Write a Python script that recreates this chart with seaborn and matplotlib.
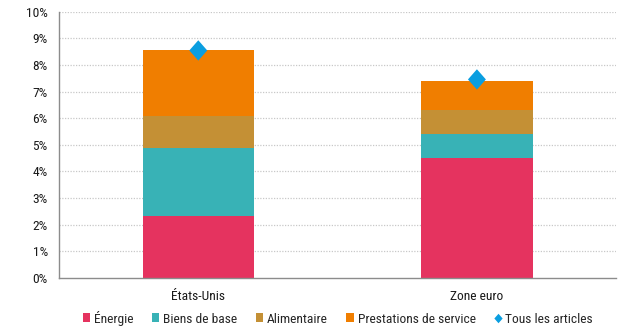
import numpy as np
import pandas as pd
import matplotlib
matplotlib.use("Agg")
import matplotlib.pyplot as plt
import seaborn as sns
from matplotlib.patches import Patch
from matplotlib.lines import Line2D
from matplotlib.ticker import FixedLocator

regions = ["États-Unis", "Zone euro"]
energie = [2.34, 4.49]
biens_de_base = [2.56, 0.90]
alimentaire = [1.18, 0.91]
prestations = [2.49, 1.11]
tous_articles = [8.55, 7.46]

components = ["Énergie", "Biens de base", "Alimentaire", "Prestations de service"]
colors = ["#E5335F", "#38B2B6", "#C49035", "#F07E00"]
diamond_color = "#0A9EE0"
# slightly tall diamond
diamond = [(0, 1), (0.88, 0), (0, -1), (-0.88, 0), (0, 1)]

sns.set_theme(style="white")
plt.rcParams["font.family"] = ["Liberation Sans Narrow", "Roboto Condensed",
                               "Archivo Narrow", "DejaVu Sans"]
FS = 9.7

fig = plt.figure(figsize=(6.34, 3.30), dpi=100)
ax = fig.add_axes([0.093, 0.158, 0.879, 0.806])

# stacked bars: draw cumulative totals from the top layer down
stack = np.vstack([energie, biens_de_base, alimentaire, prestations])
cum = np.cumsum(stack, axis=0)
for i in reversed(range(len(components))):
    df = pd.DataFrame({"region": regions, "value": cum[i]})
    sns.barplot(data=df, x="region", y="value", color=colors[i], width=0.40,
                saturation=1, ax=ax, zorder=2, linewidth=0)

df_all = pd.DataFrame({"region": regions, "value": tous_articles})
sns.scatterplot(data=df_all, x="region", y="value", marker=diamond, s=215,
                color=diamond_color, edgecolor="none", ax=ax, zorder=4)

ax.set_xlim(-0.5, 1.5)
ax.set_ylim(0, 10)
ax.set_yticks(range(0, 11))
ax.set_yticklabels([f"{v}%" for v in range(0, 11)])
ax.set_xlabel("")
ax.set_ylabel("")

# dotted horizontal grid
for y in range(1, 11):
    ax.axhline(y, color="#C8C8C8", linestyle=(0, (1, 1.2)), linewidth=0.9, zorder=1)

for side in ["top", "right"]:
    ax.spines[side].set_visible(False)
for side in ["left", "bottom"]:
    ax.spines[side].set_color("#8C8C8C")
    ax.spines[side].set_linewidth(1.0)

ax.tick_params(axis="y", length=0, labelsize=FS, colors="#1A1A1A", pad=8)
ax.tick_params(axis="x", which="major", length=0, labelsize=FS, colors="#1A1A1A", pad=9)
ax.xaxis.set_minor_locator(FixedLocator([-0.5, 0.5, 1.5]))
ax.tick_params(axis="x", which="minor", length=4, width=1.0, color="#8C8C8C", direction="out")

handles = [Patch(facecolor=c, edgecolor="none") for c in colors]
handles.append(Line2D([], [], linestyle="none", marker=diamond, markersize=6.8,
                      markerfacecolor=diamond_color, markeredgecolor="none"))
labels = components + ["Tous les articles"]
fig.legend(handles, labels, loc="center", bbox_to_anchor=(0.533, 0.036), ncol=5,
           frameon=False, fontsize=FS, handlelength=0.55, handleheight=0.65,
           handletextpad=0.3, columnspacing=1.35, borderaxespad=0)

fig.savefig("out.png", dpi=100)
